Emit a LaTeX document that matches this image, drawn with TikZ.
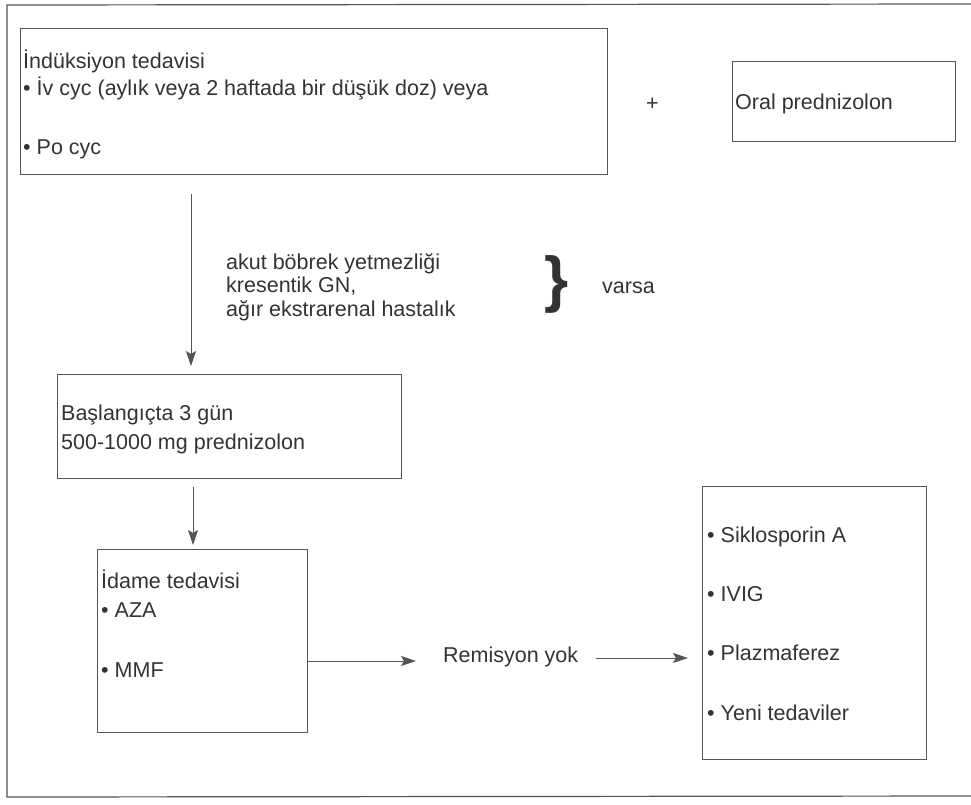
\documentclass[tikz,border=0pt]{standalone}
\usepackage{fontspec}
\setmainfont{Liberation Sans}
\usetikzlibrary{arrows.meta}
\definecolor{linegray}{HTML}{555555}
\definecolor{textgray}{HTML}{333333}
\tikzset{
	box/.style={draw=linegray,line width=1.2pt,rectangle,inner sep=0pt,anchor=north west},
	txt/.style={anchor=base west,inner sep=0pt,text=textgray,font=\fontsize{21.5}{25}\selectfont},
	arr/.style={draw=linegray,line width=1pt,-{Stealth[length=15pt,width=10pt,inset=3pt]}},
}
\begin{document}
\begin{tikzpicture}[x=1pt,y=-1pt]
	\useasboundingbox (0,0) rectangle (971,804);
	\draw[linegray,line width=1.2pt] (971,4)--(7,5)--(7,797)--(971,796);
	\node[box,minimum width=587pt,minimum height=146pt] (induk) at (20,28) {};
	\node[txt] (i1) at (23,68) {İndüksiyon tedavisi};
	\node[txt] (i2) at (23,95) {\textbullet\ İv cyc (aylık veya 2 haftada bir düşük doz) veya};
	\node[txt] (i3) at (23,154) {\textbullet\ Po cyc};
	\node[txt] (arti) at (646,110) {+};
	\node[box,minimum width=223pt,minimum height=80pt] (oral) at (732,61) {};
	\node[txt] (o1) at (735,109) {Oral prednizolon};
	\node[txt] (k1) at (226,269) {akut böbrek yetmezliği};
	\node[txt] (k2) at (226,292) {kresentik GN,};
	\node[txt] (k3) at (226,316) {ağır ekstrarenal hastalık};
	\node[inner sep=0pt,text=textgray,font=\fontsize{62}{62}\selectfont\bfseries] (kume) at (557,284) {\}};
	\node[txt] (varsa) at (602,293) {varsa};
	\node[box,minimum width=344pt,minimum height=104pt] (basla) at (57,374) {};
	\node[txt] (b1) at (61,420) {Başlangıçta 3 gün};
	\node[txt] (b2) at (61,449) {500-1000 mg prednizolon};
	\node[box,minimum width=210pt,minimum height=183pt] (idame) at (97,549) {};
	\node[txt] (d1) at (101,588) {İdame tedavisi};
	\node[txt] (d2) at (101,617) {\textbullet\ AZA};
	\node[txt] (d3) at (101,677) {\textbullet\ MMF};
	\node[txt] (remis) at (443,662) {Remisyon yok};
	\node[box,minimum width=224pt,minimum height=273pt] (diger) at (702,486) {};
	\node[txt] (g1) at (707,542) {\textbullet\ Siklosporin A};
	\node[txt] (g2) at (707,601) {\textbullet\ IVIG};
	\node[txt] (g3) at (707,660) {\textbullet\ Plazmaferez};
	\node[txt] (g4) at (707,720) {\textbullet\ Yeni tedaviler};
	\coordinate (a1) at (191,0);
	\coordinate (a2) at (193,0);
	\coordinate (r1) at (0,661);
	\coordinate (r2) at (0,658);
	\draw[arr,shorten <=19pt,shorten >=8pt] (induk.south -| a1)--(basla.north -| a1);
	\draw[arr,shorten <=8pt,shorten >=4pt] (basla.south -| a2)--(idame.north -| a2);
	\draw[arr,shorten >=27pt] (idame.east |- r1)--(remis.west |- r1);
	\draw[arr,shorten <=18pt,shorten >=14pt] (remis.east |- r2)--(diger.west |- r2);
\end{tikzpicture}
\end{document}
